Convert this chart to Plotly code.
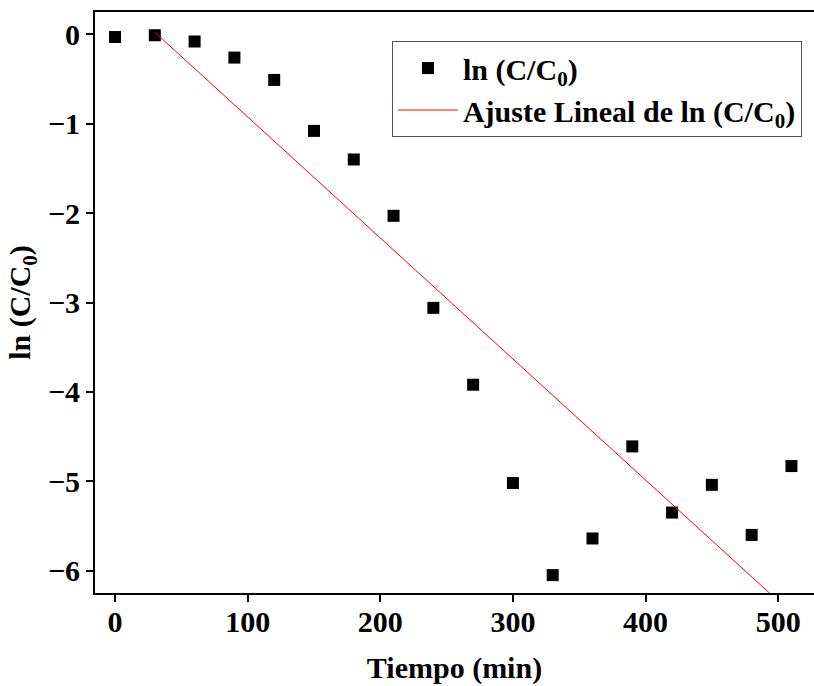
import plotly.graph_objects as go

# Data
tiempo = [0, 30, 60, 90, 120, 150, 180, 210, 240, 270, 300, 330, 360, 390, 420, 450, 480, 510]
ln_c = [-0.03, -0.01, -0.08, -0.26, -0.51, -1.08, -1.40, -2.03, -3.06, -3.92,
        -5.02, -6.05, -5.64, -4.61, -5.35, -5.04, -5.60, -4.83]

# Linear fit
fit_slope = -0.01354
fit_intercept = 0.43
fit_x = [30, 510]
fit_y = [fit_intercept + fit_slope * v for v in fit_x]

x_ticks = [0, 100, 200, 300, 400, 500]
y_ticks = [0, -1, -2, -3, -4, -5, -6]

FONT = "Liberation Serif"
FS = 30

fig = go.Figure()
fig.add_trace(go.Scatter(
    x=tiempo, y=ln_c, mode="markers",
    marker=dict(symbol="square", size=12, color="black"),
    name="ln (C/C<sub>0</sub>)",
))
fig.add_trace(go.Scatter(
    x=fit_x, y=fit_y, mode="lines",
    line=dict(color="#ff0000", width=1),
    name="Ajuste Lineal de ln (C/C<sub>0</sub>)",
))

fig.update_layout(
    width=814, height=686,
    margin=dict(l=95, r=0, t=12, b=93),
    paper_bgcolor="white", plot_bgcolor="white",
    font=dict(family=FONT, size=FS, color="black", weight="bold"),
    showlegend=True,
    legend=dict(
        x=0.413, y=0.95, xanchor="left", yanchor="top",
        bgcolor="white", bordercolor="#555555", borderwidth=1,
        font=dict(family=FONT, size=FS, color="black", weight="bold"),
        tracegroupgap=0, itemwidth=60,
    ),
)
fig.update_xaxes(
    range=[-15.1, 527], tickvals=x_ticks,
    showgrid=False, zeroline=False,
    showline=True, linecolor="black", linewidth=2, mirror=True,
    ticks="outside", ticklen=7, tickwidth=2, tickcolor="black",
    tickfont=dict(family=FONT, size=FS, weight="bold"),
    ticklabelstandoff=-6,
    title=dict(text="Tiempo (min)", font=dict(family=FONT, size=FS, weight="bold"), standoff=20),
)
fig.update_yaxes(
    range=[-6.25, 0.25], tickvals=y_ticks,
    showgrid=False, zeroline=False,
    showline=True, linecolor="black", linewidth=2, mirror=False,
    ticks="outside", ticklen=7, tickwidth=2, tickcolor="black",
    tickfont=dict(family=FONT, size=FS, weight="bold"),
    title=dict(text="ln (C/C<sub>0</sub>)", font=dict(family=FONT, size=FS, weight="bold"), standoff=8),
)

fig.write_html("out.html")
